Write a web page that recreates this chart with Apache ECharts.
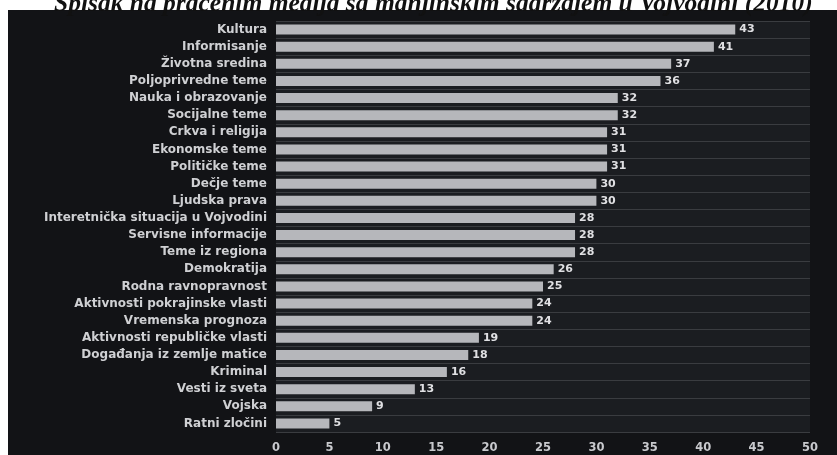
<!DOCTYPE html>
<html><head><meta charset="utf-8">
<script src="https://cdn.jsdelivr.net/npm/echarts@6/dist/echarts.min.js"></script>
<style>html,body{margin:0;padding:0;background:#fff}#c{width:837px;height:455px}</style>
</head><body><div id="c"></div>
<script>
const titleText = 'Spisak na praćenim medija sa manjinskim sadržajem u Vojvodini (2010)';
const categories = ['Kultura','Informisanje','Životna sredina','Poljoprivredne teme','Nauka i obrazovanje','Socijalne teme','Crkva i religija','Ekonomske teme','Političke teme','Dečje teme','Ljudska prava','Interetnička situacija u Vojvodini','Servisne informacije','Teme iz regiona','Demokratija','Rodna ravnopravnost','Aktivnosti pokrajinske vlasti','Vremenska prognoza','Aktivnosti republičke vlasti','Događanja iz zemlje matice','Kriminal','Vesti iz sveta','Vojska','Ratni zločini'];
const values = [43,41,37,36,32,32,31,31,31,30,30,28,28,28,26,25,24,24,19,18,16,13,9,5];
const xTicks = [0,5,10,15,20,25,30,35,40,45,50];

const chart = echarts.init(document.getElementById('c'));
chart.setOption({
  backgroundColor: '#fff',
  animation: false,
  title: {
    text: titleText, left: 49, top: -14,
    textStyle: {fontFamily: 'Liberation Serif', fontStyle: 'italic', fontWeight: 'bold', fontSize: 25.5, color: '#111'}
  },
  graphic: [{type: 'rect', left: 8, top: 10, shape: {width: 829, height: 445}, style: {fill: '#121316'}, z: -10}],
  grid: {left: 276, right: 27, top: 21, bottom: 23, show: true, backgroundColor: '#1b1d21', borderWidth: 0, containLabel: false},
  xAxis: {
    type: 'value', min: 0, max: 50, interval: 5,
    axisLine: {show: false}, axisTick: {show: false}, splitLine: {show: false},
    axisLabel: {color: '#c8c9cd', fontSize: 11.5, fontFamily: 'DejaVu Sans', fontWeight: 'bold', margin: 10,
      formatter: v => xTicks.includes(v) ? String(v) : ''}
  },
  yAxis: {
    type: 'category', data: categories, inverse: true,
    axisLine: {show: false}, axisTick: {show: false},
    splitLine: {show: true, lineStyle: {color: '#3a3c40', width: 1}},
    axisLabel: {color: '#cfd0d3', fontSize: 12, fontFamily: 'DejaVu Sans', fontWeight: 'bold', margin: 9}
  },
  series: [{
    type: 'bar', data: values, barWidth: 10,
    itemStyle: {color: '#b6b7bb'},
    label: {show: true, position: 'right', distance: 4, color: '#e0e0e3', fontSize: 11, fontFamily: 'DejaVu Sans', fontWeight: 'bold'}
  }]
});
</script></body></html>
